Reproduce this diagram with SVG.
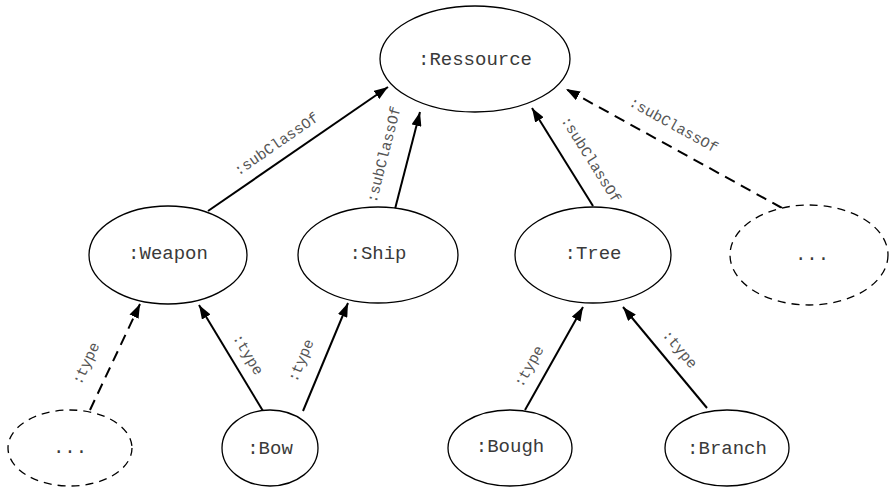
<svg xmlns="http://www.w3.org/2000/svg" width="889" height="489" viewBox="0 0 889 489">
<style>
.n{fill:#fff;stroke:#000;stroke-width:1.3}
.d{stroke-dasharray:8,6}
.t{font-family:"Liberation Mono","DejaVu Sans Mono",monospace;font-size:19px;fill:#3a3a3a;text-anchor:middle;dominant-baseline:central}
.e{stroke:#000;stroke-width:2;fill:none;marker-end:url(#ah)}
.ed{stroke-dasharray:11,7}
.l{font-family:"Liberation Mono","DejaVu Sans Mono",monospace;font-size:15px;fill:#555;text-anchor:middle;dominant-baseline:central}
</style>
<defs>
<marker id="ah" viewBox="0 0 14 10" refX="14" refY="5" markerWidth="14" markerHeight="10" markerUnits="userSpaceOnUse" orient="auto">
<path d="M0,0 L14,5 L0,10 z" fill="#000"/>
</marker>
</defs>
<g id="connectors">
<line class="e" x1="208" y1="211" x2="388" y2="87"/>
<line class="e" x1="395" y1="209" x2="420" y2="112"/>
<line class="e" x1="593" y1="206" x2="532" y2="108"/>
<line class="e ed" x1="782" y1="208" x2="566" y2="89"/>
<line class="e ed" x1="90" y1="410" x2="140" y2="304"/>
<line class="e" x1="263" y1="411" x2="199" y2="305"/>
<line class="e" x1="303" y1="411" x2="348" y2="303"/>
<line class="e" x1="525" y1="410" x2="583" y2="307"/>
<line class="e" x1="707" y1="408" x2="623" y2="307"/>
<text class="l" transform="translate(277,145) rotate(-34.6)">:subClassOf</text>
<text class="l" transform="translate(385,155) rotate(-75.7)">:subClassOf</text>
<text class="l" transform="translate(590,160) rotate(57.8)">:subClassOf</text>
<text class="l" transform="translate(673,126) rotate(29)">:subClassOf</text>
<text class="l" transform="translate(87,364) rotate(-65)">:type</text>
<text class="l" transform="translate(247,355) rotate(59)">:type</text>
<text class="l" transform="translate(302,361) rotate(-67)">:type</text>
<text class="l" transform="translate(530,367) rotate(-60.6)">:type</text>
<text class="l" transform="translate(679,350) rotate(50)">:type</text>
</g>
<g id="ressource"><ellipse class="n" cx="475" cy="59" rx="95" ry="53"/><text class="t" x="475" y="60">:Ressource</text></g>
<g id="weapon"><ellipse class="n" cx="168" cy="255" rx="79" ry="49"/><text class="t" x="168" y="254">:Weapon</text></g>
<g id="ship"><ellipse class="n" cx="378" cy="255" rx="80" ry="48"/><text class="t" x="378" y="254">:Ship</text></g>
<g id="tree"><ellipse class="n" cx="593" cy="255" rx="78" ry="48"/><text class="t" x="593" y="254">:Tree</text></g>
<g id="more-right"><ellipse class="n d" cx="809" cy="255" rx="79" ry="50"/><text class="t" x="812" y="255">...</text></g>
<g id="more-left"><ellipse class="n d" cx="70" cy="448" rx="62" ry="38"/><text class="t" x="70" y="448">...</text></g>
<g id="bow"><ellipse class="n" cx="270" cy="448" rx="48" ry="38"/><text class="t" x="270" y="449">:Bow</text></g>
<g id="bough"><ellipse class="n" cx="510" cy="448" rx="62" ry="38"/><text class="t" x="510" y="447">:Bough</text></g>
<g id="branch"><ellipse class="n" cx="727" cy="448" rx="62" ry="38"/><text class="t" x="727" y="449">:Branch</text></g>
</svg>
